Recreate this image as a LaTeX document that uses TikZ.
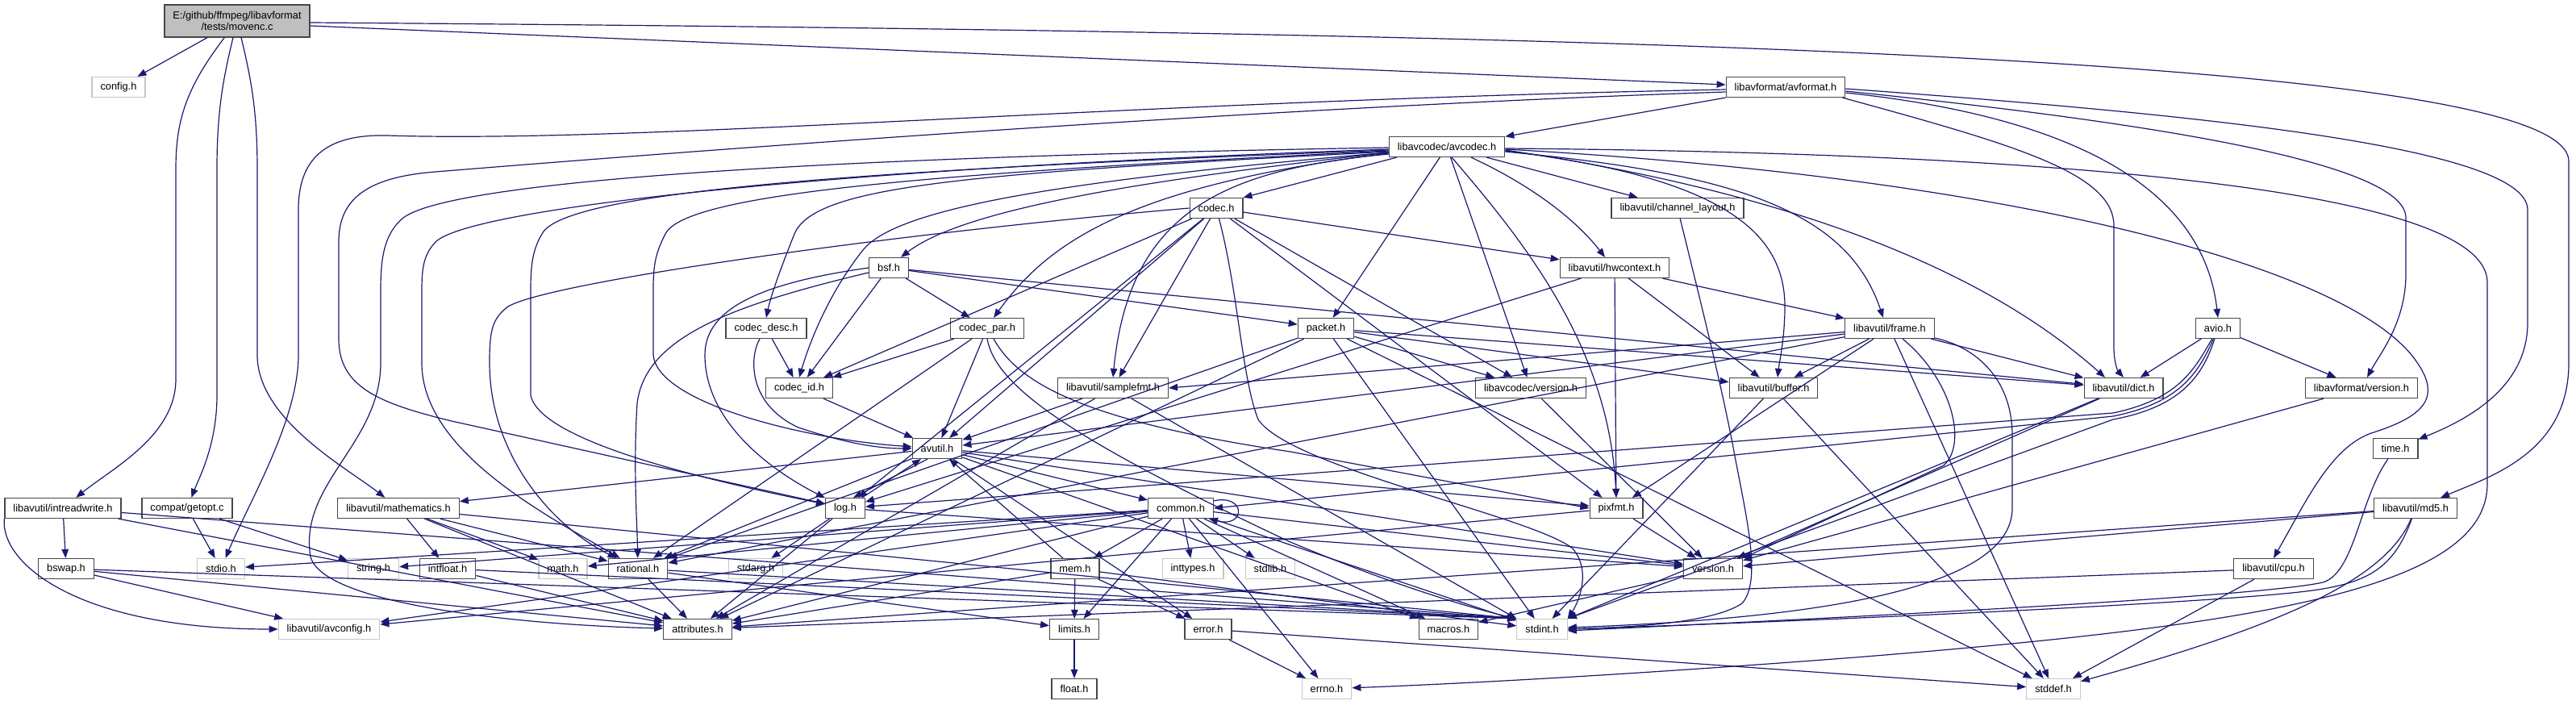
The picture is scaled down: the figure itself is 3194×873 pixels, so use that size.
\documentclass[tikz,border=0pt]{standalone}
\usepackage{fontspec}
\usepackage{tikz}
\usetikzlibrary{arrows.meta}
\newfontfamily\doxfont{Liberation Sans}
\newcommand{\doxsize}{\doxfont\fontsize{12.8pt}{14.5pt}\selectfont}
\definecolor{EdgeNavy}{RGB}{25,25,112}
\definecolor{RootGray}{RGB}{191,191,191}
\tikzset{
  hdr/.style={draw=black!72, fill=white, line width=1.2pt, minimum height=25pt,
    inner xsep=10.5pt, inner ysep=0pt, font=\doxsize},
  syshdr/.style={hdr, draw=black!22},
  roothdr/.style={hdr, fill=RootGray, align=center, minimum height=40pt},
  inc/.style={draw=EdgeNavy, line width=1.2pt, -{Triangle[length=11pt,width=8.5pt]}}
}
\begin{document}
\begin{tikzpicture}[x=1pt,y=-1pt]
  \useasboundingbox (0,0) rectangle (3194,873);
  % nodes, one row per rank
  \node[roothdr] (root) at (294,26) {E:/github/ffmpeg/libavformat\\/tests/movenc.c};
  \node[syshdr] (config) at (147,108) {config.h};
  \node[hdr] (avformat) at (2214,108) {libavformat/avformat.h};
  \node[hdr] (avcodec) at (1794,182) {libavcodec/avcodec.h};
  \node[hdr] (chlayout) at (2080,258) {libavutil/channel\_layout.h};
  \node[hdr] (codec) at (1508,258) {codec.h};
  \node[hdr] (bsf) at (1102,332) {bsf.h};
  \node[hdr] (hwctx) at (2002,332) {libavutil/hwcontext.h};
  \node[hdr] (codecdesc) at (950,407) {codec\_desc.h};
  \node[hdr] (codecpar) at (1224,407) {codec\_par.h};
  \node[hdr] (packet) at (1644,407) {packet.h};
  \node[hdr] (frame) at (2343,407) {libavutil/frame.h};
  \node[hdr] (avio) at (2750,407) {avio.h};
  \node[hdr] (codecid) at (991,481) {codec\_id.h};
  \node[hdr] (samplefmt) at (1380,481) {libavutil/samplefmt.h};
  \node[hdr] (lavcver) at (1898,481) {libavcodec/version.h};
  \node[hdr] (buffer) at (2199,481) {libavutil/buffer.h};
  \node[hdr] (dict) at (2633,481) {libavutil/dict.h};
  \node[hdr] (lavfver) at (2928,481) {libavformat/version.h};
  \node[hdr] (avutil) at (1162,556) {avutil.h};
  \node[hdr] (timeh) at (2970,556) {time.h};
  \node[hdr] (intrw) at (78,630) {libavutil/intreadwrite.h};
  \node[hdr] (getopt) at (232,630) {compat/getopt.c};
  \node[hdr] (mathem) at (494,630) {libavutil/mathematics.h};
  \node[hdr] (logh) at (1048,630) {log.h};
  \node[hdr] (common) at (1464,630) {common.h};
  \node[hdr] (pixfmt) at (2004,630) {pixfmt.h};
  \node[hdr] (md5) at (2995,630) {libavutil/md5.h};
  \node[hdr] (bswap) at (82,705) {bswap.h};
  \node[syshdr] (stdio) at (274,705) {stdio.h};
  \node[syshdr] (string) at (463,705) {string.h};
  \node[hdr] (intfloat) at (555,705) {intfloat.h};
  \node[syshdr] (math) at (698,705) {math.h};
  \node[hdr] (rational) at (791,705) {rational.h};
  \node[syshdr] (stdarg) at (937,705) {stdarg.h};
  \node[hdr] (mem) at (1333,705) {mem.h};
  \node[syshdr] (inttypes) at (1479,705) {inttypes.h};
  \node[syshdr] (stdlib) at (1575,705) {stdlib.h};
  \node[hdr] (version) at (2124,705) {version.h};
  \node[hdr] (cpu) at (2819,705) {libavutil/cpu.h};
  \node[syshdr] (avconfig) at (408,780) {libavutil/avconfig.h};
  \node[hdr] (attrib) at (865,780) {attributes.h};
  \node[hdr] (limits) at (1332,780) {limits.h};
  \node[hdr] (error) at (1498,780) {error.h};
  \node[hdr] (macros) at (1796,780) {macros.h};
  \node[syshdr] (stdint) at (1912,780) {stdint.h};
  \node[hdr] (floath) at (1332,854) {float.h};
  \node[syshdr] (errno) at (1645,854) {errno.h};
  \node[syshdr] (stddef) at (2546,854) {stddef.h};

  % movenc.c
  \draw[inc] (root) -- (config);
  \draw[inc] (root) .. controls (230,110) and (218,150) .. (218,210) -- (218,470) .. controls (218,540) and (140,580) .. (intrw);
  \draw[inc] (root) .. controls (276,100) and (269,140) .. (269,210) -- (269,490) .. controls (269,550) and (248,590) .. (getopt);
  \draw[inc] (root) .. controls (312,100) and (319,140) .. (319,210) -- (319,440) .. controls (319,520) and (430,580) .. (mathem);
  \draw[inc] ([yshift=-6pt]root.east) -- (avformat);
  \draw[inc] ([yshift=-2pt]root.east) .. controls (2000,40) and (3185,70) .. (3185,200) -- (3185,450) .. controls (3185,560) and (3090,590) .. (md5);

  % avformat.h
  \draw[inc] (avformat) -- (avcodec);
  \draw[inc] ([yshift=-3pt]avformat.west) .. controls (1400,125) and (800,178) .. (480,168) .. controls (400,166) and (370,200) .. (370,260) -- (370,440) .. controls (370,520) and (310,620) .. (stdio);
  \draw[inc] ([yshift=-6pt]avformat.west) .. controls (1500,135) and (700,200) .. (540,213) .. controls (450,220) and (420,250) .. (420,300) -- (420,420) .. controls (420,480) and (470,500) .. (560,522) -- (logh);
  \draw[inc] ([yshift=-2pt]avformat.east) .. controls (2700,140) and (3134,180) .. (3134,260) -- (3134,400) .. controls (3134,480) and (3060,520) .. (timeh);
  \draw[inc] ([yshift=-5pt]avformat.east) .. controls (2650,150) and (2983,200) .. (2983,270) -- (2983,340) .. controls (2983,400) and (2950,440) .. (lavfver);
  \draw[inc] ([yshift=-7pt]avformat.east) .. controls (2620,150) and (2735,260) .. (avio.north);
  \draw[inc] ([xshift=-4pt]avformat.south east) .. controls (2500,180) and (2621,215) .. (2621,280) -- (2621,430) .. controls (2621,450) and (2626,460) .. (dict.north);

  % avcodec.h
  \draw[inc] ([yshift=-2pt]avcodec.east) .. controls (2600,190) and (3084,240) .. (3084,350) -- (3084,600) .. controls (3084,730) and (2800,775) .. (2300,815) .. controls (2000,838) and (1800,848) .. (errno);
  \draw[inc] ([yshift=-9pt]avcodec.west) .. controls (1520,210) and (1400,260) .. (samplefmt.north);
  \draw[inc] ([yshift=-1pt]avcodec.west) .. controls (1000,195) and (560,225) .. (500,270) .. controls (476,290) and (472,320) .. (472,360) -- (472,450) .. controls (472,550) and (370,600) .. (385,690) .. controls (400,750) and (650,775) .. (attrib);
  \draw[inc] ([yshift=-3pt]avcodec.west) .. controls (1000,210) and (580,260) .. (540,300) .. controls (526,315) and (523,330) .. (523,360) -- (523,450) .. controls (523,560) and (680,640) .. (rational);
  \draw[inc] ([yshift=-5pt]avcodec.west) .. controls (1150,215) and (850,240) .. (825,290) .. controls (812,315) and (810,330) .. (810,360) -- (810,440) .. controls (815,500) and (1000,545) .. (avutil);
  \draw[inc] ([yshift=-4pt]avcodec.west) .. controls (1100,210) and (700,235) .. (672,290) .. controls (660,310) and (658,330) .. (658,360) -- (658,490) .. controls (670,550) and (900,600) .. (logh);
  \draw[inc] ([yshift=-6pt]avcodec.west) .. controls (1200,215) and (1010,230) .. (985,290) .. controls (965,340) and (955,370) .. (codecdesc.north);
  \draw[inc] ([yshift=-7pt]avcodec.west) .. controls (1450,220) and (1200,255) .. ([xshift=-10pt]bsf.north east);
  \draw[inc] ([yshift=-8pt]avcodec.west) .. controls (1400,230) and (1300,300) .. ([xshift=8pt]codecpar.north);
  \draw[inc] ([yshift=-7pt]avcodec.west) .. controls (1300,225) and (1110,260) .. (1070,310) .. controls (1030,360) and (1005,420) .. (codecid.north);
  \draw[inc] ([xshift=10pt]avcodec.south west) -- (codec.north east);
  \draw[inc] (avcodec) -- (packet);
  \draw[inc] (avcodec) -- (lavcver);
  \draw[inc] ([xshift=6pt]avcodec.south) .. controls (1890,300) and (1995,430) .. (pixfmt.north);
  \draw[inc] ([xshift=30pt]avcodec.south) .. controls (1910,235) and (1960,280) .. ([xshift=-12pt]hwctx.north);
  \draw[inc] (avcodec) -- (chlayout);
  \draw[inc] ([yshift=-6pt]avcodec.east) .. controls (2150,215) and (2290,260) .. ([xshift=-8pt]frame.north);
  \draw[inc] ([yshift=-5pt]avcodec.east) .. controls (2140,220) and (2213,290) .. (2213,380) .. controls (2213,420) and (2206,450) .. ([xshift=5pt]buffer.north);
  \draw[inc] ([yshift=-4pt]avcodec.east) .. controls (2300,250) and (2500,370) .. ([xshift=-23pt]dict.north);
  \draw[inc] ([yshift=-3pt]avcodec.east) .. controls (2500,220) and (2900,330) .. (2990,440) .. controls (3030,490) and (3010,515) .. (2940,537) .. controls (2890,555) and (2860,620) .. (cpu.north);

  % codec.h, bsf.h, codec_desc.h, codec_par.h, codec_id.h
  \draw[inc] (codec) .. controls (1535,360) and (1540,470) .. (1560,520) .. controls (1600,580) and (1900,640) .. (1950,680) .. controls (1975,710) and (1955,750) .. (stdint.north east);
  \draw[inc] (codec) -- (avutil);
  \draw[inc] (codec) -- (hwctx);
  \draw[inc] (codec) -- (logh);
  \draw[inc] (codec) -- (pixfmt);
  \draw[inc] (codec.west) .. controls (1100,290) and (680,350) .. (630,380) .. controls (610,395) and (607,410) .. (607,450) .. controls (607,560) and (680,650) .. (rational);
  \draw[inc] (codec) -- (samplefmt);
  \draw[inc] (codec) -- (codecid);
  \draw[inc] (codec) -- (lavcver);
  \draw[inc] (bsf) -- (dict);
  \draw[inc] (bsf.west) .. controls (950,350) and (874,380) .. (874,440) .. controls (874,520) and (950,580) .. (logh);
  \draw[inc] (bsf) .. controls (900,380) and (800,420) .. (790,500) .. controls (785,580) and (790,650) .. (rational);
  \draw[inc] (bsf) -- (codecid);
  \draw[inc] (bsf) -- (codecpar);
  \draw[inc] (bsf) -- (packet);
  \draw[inc] (codecdesc) .. controls (930,440) and (925,500) .. (990,530) .. controls (1050,550) and (1090,556) .. (avutil);
  \draw[inc] (codecdesc) -- (codecid);
  \draw[inc] (codecid) -- (avutil);
  \draw[inc] (codecpar.south) .. controls (1235,480) and (1330,545) .. (1600,672) .. controls (1750,735) and (1850,760) .. (stdint.north west);
  \draw[inc] (codecpar) -- (avutil);
  \draw[inc] (codecpar) -- (rational);
  \draw[inc] ([xshift=8pt]codecpar.south) .. controls (1260,470) and (1330,520) .. (1600,560) -- (pixfmt.west);
  \draw[inc] (codecpar) -- (codecid);

  % packet.h, hwcontext.h, frame.h, avio.h
  \draw[inc] (packet) -- (stddef);
  \draw[inc] (packet) -- (stdint);
  \draw[inc] (packet) -- (attrib);
  \draw[inc] (packet) -- (buffer);
  \draw[inc] (packet) -- (dict);
  \draw[inc] (packet) -- (rational);
  \draw[inc] (packet) -- (lavcver);
  \draw[inc] (hwctx) -- (buffer);
  \draw[inc] (hwctx) -- (frame);
  \draw[inc] (hwctx) -- (logh);
  \draw[inc] (hwctx) -- (pixfmt);
  \draw[inc] (chlayout) .. controls (2110,380) and (2135,480) .. (2150,560) .. controls (2165,640) and (2185,720) .. (2160,748) .. controls (2120,775) and (2000,778) .. (stdint.east);
  \draw[inc] (frame) -- (stddef);
  \draw[inc] (frame) .. controls (2450,430) and (2495,470) .. (2495,540) -- (2495,630) .. controls (2495,720) and (2300,765) .. ([yshift=2pt]stdint.east);
  \draw[inc] (frame) -- (avutil);
  \draw[inc] (frame) -- (buffer);
  \draw[inc] (frame) -- (dict);
  \draw[inc] (frame) -- (rational);
  \draw[inc] (frame) -- (samplefmt.east);
  \draw[inc] (frame) -- (pixfmt);
  \draw[inc] (frame) .. controls (2420,470) and (2440,550) .. (2410,577) -- (version.north east);
  \draw[inc] (avio) .. controls (2730,470) and (2700,505) .. (2620,520) -- (stdint.north east);
  \draw[inc] (avio) .. controls (2725,465) and (2700,500) .. (2620,516) -- (common.east);
  \draw[inc] (avio) -- (dict);
  \draw[inc] (avio) .. controls (2720,460) and (2700,495) .. (2620,512) -- (logh);
  \draw[inc] (avio) -- (lavfver);
  \draw[inc] (lavfver) -- (version);
  \draw[inc] (lavcver) -- (version);
  \draw[inc] (timeh) .. controls (2925,620) and (2920,710) .. (2880,722) .. controls (2800,740) and (2300,765) .. ([yshift=-2pt]stdint.east);
  \draw[inc] (md5) .. controls (2960,713) and (2850,770) .. (stddef);
  \draw[inc] (md5) .. controls (2970,700) and (2940,720) .. (2880,730) .. controls (2800,745) and (2300,768) .. (stdint.east);
  \draw[inc] (md5) -- (attrib);
  \draw[inc] (md5) -- (version);
  \draw[inc] (cpu) -- (stddef);
  \draw[inc] (cpu) -- (attrib);
  \draw[inc] (dict) -- (stdint);
  \draw[inc] (dict) -- (version);
  \draw[inc] (buffer) -- (stddef);
  \draw[inc] (buffer) -- (stdint);

  % libavutil core
  \draw[inc] (samplefmt) -- (stdint.north west);
  \draw[inc] (samplefmt) -- (avutil);
  \draw[inc] (samplefmt) -- (attrib);
  \draw[inc] (avutil) -- (common);
  \draw[inc] (avutil) -- (error);
  \draw[inc] (avutil) -- (rational);
  \draw[inc] (avutil) -- (version);
  \draw[inc] (avutil) -- (macros);
  \draw[inc] (avutil) -- (mathem);
  \draw[inc] ([xshift=-12pt]avutil.south) -- ([xshift=10pt]logh.north);
  \draw[inc] (avutil) -- (pixfmt);
  \draw[inc] ([xshift=-4pt]logh.north east) -- ([xshift=-20pt]avutil.south);
  \draw[inc] (logh) -- (stdarg);
  \draw[inc] (logh) -- (attrib);
  \draw[inc] (logh) -- (version);
  \draw[inc] (common) -- (errno);
  \draw[inc] (common) -- (inttypes);
  \draw[inc] (common) -- (limits);
  \draw[inc] (common) -- (math);
  \draw[inc] (common) -- (stdint);
  \draw[inc] (common) -- (stdio);
  \draw[inc] (common) -- (stdlib);
  \draw[inc] (common) -- (string);
  \draw[inc] (common) -- (attrib);
  \draw[inc] (common) -- (macros);
  \draw[inc] (common) -- (version);
  \draw[inc] (common) -- (avconfig);
  \draw[inc] ([yshift=-4pt]common.north east) .. controls (1545,612) and (1545,655) .. ([xshift=-6pt]common.south east);
  \draw[inc] (common) -- (mem);
  \draw[inc] (mem) -- (limits);
  \draw[inc] (mem) -- (stdint);
  \draw[inc] (mem) -- (attrib);
  \draw[inc] (mem) -- (error);
  \draw[inc] (mem) -- (avutil);
  \draw[inc] (error) -- (errno);
  \draw[inc] (error) -- (stddef);
  \draw[inc] (rational) -- (stdint.north west);
  \draw[inc] (rational) -- (limits);
  \draw[inc] (rational) -- (attrib);
  \draw[inc] (version) -- (macros);
  \draw[inc] (pixfmt) -- (avconfig);
  \draw[inc] (pixfmt) -- (version);
  \draw[inc] (limits) -- (floath);

  % left group
  \draw[inc] (mathem) -- (stdint.north west);
  \draw[inc] (mathem) -- (math);
  \draw[inc] (mathem) -- (attrib);
  \draw[inc] (mathem) -- (rational);
  \draw[inc] (mathem) -- (intfloat);
  \draw[inc] (intfloat) -- (stdint.north west);
  \draw[inc] (intfloat) -- (attrib);
  \draw[inc] (intrw) -- (stdint.north west);
  \draw[inc] (intrw.south west) .. controls (0,700) and (100,780) .. (avconfig);
  \draw[inc] (intrw) -- (attrib);
  \draw[inc] (intrw) -- (bswap);
  \draw[inc] (bswap) -- (stdint.north west);
  \draw[inc] (bswap) -- (avconfig);
  \draw[inc] (bswap) -- (attrib);
  \draw[inc] (getopt) -- (stdio);
  \draw[inc] (getopt) -- (string);
\end{tikzpicture}
\end{document}
